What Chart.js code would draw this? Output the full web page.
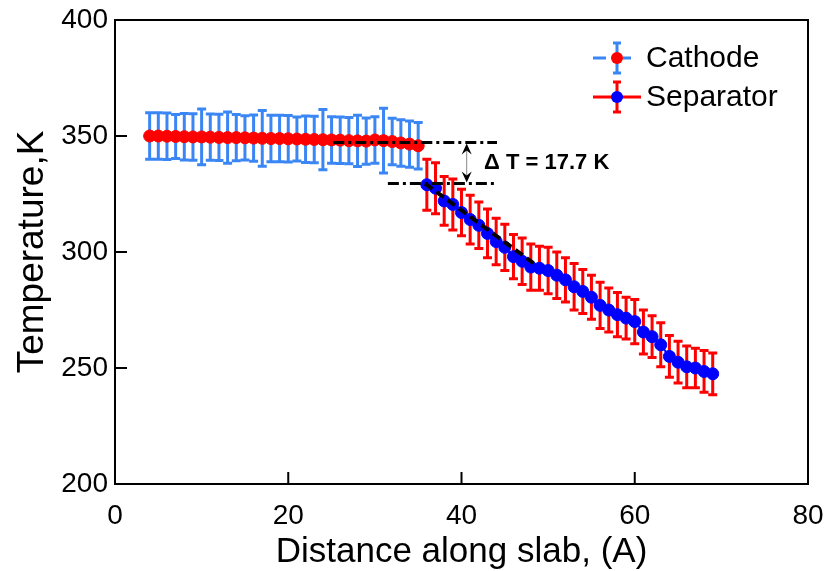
<!DOCTYPE html>
<html>
<head>
<meta charset="utf-8">
<script src="https://cdn.jsdelivr.net/npm/chart.js@4"></script>
<style>
  body { margin: 0; background: #fff; }
  canvas { display: block; }
</style>
</head>
<body>
<canvas id="tempchart" width="825" height="571"></canvas>
<script>
// Data
const cathodeX = [4, 5, 6, 7, 8, 9, 10, 11, 12, 13, 14, 15, 16, 17, 18, 19, 20, 21, 22, 23, 24, 25, 26, 27, 28, 29, 30, 31, 32, 33, 34, 35];
const cathodeT = [350.0, 350.0, 349.9, 349.8, 349.7, 349.6, 349.6, 349.5, 349.4, 349.3, 349.3, 349.2, 349.1, 349.0, 348.9, 348.9,
                  348.8, 348.7, 348.6, 348.5, 348.4, 348.3, 348.2, 348.0, 347.9, 347.8, 348.3, 348.0, 347.6, 347.0, 346.5, 345.8];
const cathodeErr = [10, 10, 10, 9.5, 10, 10, 12, 10, 10, 11, 10, 9.5, 10, 12, 10, 10,
                    10, 9.5, 10, 10, 13, 10, 10, 10, 11, 10, 10, 14, 10, 10, 10, 10];

const separatorX = [36, 37, 38, 39, 40, 41, 42, 43, 44, 45, 46, 47, 48, 49, 50, 51, 52, 53, 54, 55, 56, 57, 58, 59, 60, 61, 62, 63, 64, 65, 66, 67, 68, 69];
const separatorT = [329, 327.5, 322, 320.5, 317, 314, 311.5, 308, 304.5, 302, 298, 296, 293.5, 293, 292, 290, 288, 285, 283, 280.5,
                    277, 275, 273, 271.5, 270, 265.5, 263.5, 260, 255, 252.5, 250.5, 250, 248.5, 247.5];
const separatorErr = [11, 11, 10.5, 11, 10, 10.5, 10, 10.5, 10, 10, 9.5, 10, 10, 9.5, 10, 10, 9.5, 10, 9.5, 9.5,
                      10, 9.5, 9.5, 9, 9.5, 9.5, 9, 9.5, 9, 9, 9, 8.5, 9, 9];

// reference levels and the fit through the first separator points
const upperLevelX = [25.2, 44.1];
const upperLevelT = [347.2, 347.2];
const lowerLevelX = [31.5, 44.1];
const lowerLevelT = [329.5, 329.5];
const fitX = [35.8, 48.3];
const fitT = [329.5, 295.2];
const deltaLabel = 'Δ T = 17.7 K';

const xTicks = [0, 20, 40, 60, 80];
const yTicks = [200, 250, 300, 350, 400];

const RED = '#ff0000';
const BLUE = '#0000ff';
const LIGHTBLUE = '#3b86f5';
const FONT = "'Liberation Sans', Arial, sans-serif";

const pairs = (xs, ys) => xs.map((v, i) => ({ x: v, y: ys[i] }));

function errorBars(ctx, sx, sy, xs, ys, errs, color) {
  ctx.save();
  ctx.strokeStyle = color;
  ctx.lineWidth = 3;
  xs.forEach((v, i) => {
    const px = sx.getPixelForValue(v);
    const top = sy.getPixelForValue(ys[i] + errs[i]);
    const bot = sy.getPixelForValue(ys[i] - errs[i]);
    ctx.beginPath();
    ctx.moveTo(px, top); ctx.lineTo(px, bot);
    ctx.moveTo(px - 4.5, top); ctx.lineTo(px + 4.5, top);
    ctx.moveTo(px - 4.5, bot); ctx.lineTo(px + 4.5, bot);
    ctx.stroke();
  });
  ctx.restore();
}

function arrowHead(ctx, x, y, dir) {
  ctx.beginPath();
  ctx.moveTo(x, y);
  ctx.lineTo(x - 5, y - dir * 11);
  ctx.lineTo(x, y - dir * 7);
  ctx.lineTo(x + 5, y - dir * 11);
  ctx.closePath();
  ctx.fill();
}

const decor = {
  id: 'decor',
  beforeDatasetsDraw(chart) {
    const { ctx, scales: { x, y } } = chart;
    errorBars(ctx, x, y, cathodeX, cathodeT, cathodeErr, LIGHTBLUE);
    errorBars(ctx, x, y, separatorX, separatorT, separatorErr, RED);
  },
  afterDraw(chart) {
    const { ctx, chartArea: a, scales: { x, y } } = chart;
    ctx.save();
    // frame
    ctx.strokeStyle = '#000';
    ctx.lineWidth = 2;
    ctx.strokeRect(a.left, a.top, a.right - a.left, a.bottom - a.top);
    // inward ticks
    ctx.beginPath();
    xTicks.forEach(v => {
      const px = x.getPixelForValue(v);
      ctx.moveTo(px, a.bottom); ctx.lineTo(px, a.bottom - 12);
    });
    yTicks.forEach(v => {
      const py = y.getPixelForValue(v);
      ctx.moveTo(a.left, py); ctx.lineTo(a.left + 12, py);
    });
    ctx.stroke();

    // double arrow for delta T
    const ax = x.getPixelForValue(40.6);
    const ay1 = y.getPixelForValue(upperLevelT[0]) + 1;
    const ay2 = y.getPixelForValue(lowerLevelT[0]) - 1;
    ctx.strokeStyle = '#888';
    ctx.lineWidth = 1;
    ctx.beginPath();
    ctx.moveTo(ax, ay1 + 6); ctx.lineTo(ax, ay2 - 6);
    ctx.stroke();
    ctx.fillStyle = '#000';
    arrowHead(ctx, ax, ay1, -1);
    arrowHead(ctx, ax, ay2, 1);

    ctx.font = 'bold 22px ' + FONT;
    ctx.textBaseline = 'middle';
    ctx.textAlign = 'left';
    ctx.fillText(deltaLabel, x.getPixelForValue(42.6), y.getPixelForValue(338.6));

    // legend
    const lx = 617;
    const rows = [
      { label: 'Cathode', cy: 58, bar: LIGHTBLUE, dot: RED, dashed: true },
      { label: 'Separator', cy: 97, bar: RED, dot: BLUE, dashed: false }
    ];
    rows.forEach(r => {
      ctx.strokeStyle = r.bar;
      ctx.lineWidth = 3;
      ctx.beginPath();
      if (r.dashed) {
        ctx.moveTo(593, r.cy); ctx.lineTo(606, r.cy);
        ctx.moveTo(623, r.cy); ctx.lineTo(631, r.cy);
      } else {
        ctx.moveTo(593, r.cy); ctx.lineTo(641, r.cy);
      }
      ctx.moveTo(lx, r.cy - 15); ctx.lineTo(lx, r.cy + 15);
      ctx.moveTo(lx - 4, r.cy - 15); ctx.lineTo(lx + 4, r.cy - 15);
      ctx.moveTo(lx - 4, r.cy + 15); ctx.lineTo(lx + 4, r.cy + 15);
      ctx.stroke();
      ctx.fillStyle = r.dot;
      ctx.beginPath();
      ctx.arc(lx, r.cy, 6, 0, Math.PI * 2);
      ctx.fill();
      ctx.fillStyle = '#000';
      ctx.font = '30px ' + FONT;
      ctx.fillText(r.label, 646, r.cy + 1);
    });
    ctx.restore();
  }
};

const ctx = document.getElementById('tempchart').getContext('2d');
new Chart(ctx, {
  type: 'scatter',
  data: {
    datasets: [
      {
        data: pairs(upperLevelX, upperLevelT), showLine: true, pointRadius: 0,
        borderColor: '#000', borderWidth: 3, borderDash: [11, 4, 3, 4]
      },
      {
        data: pairs(lowerLevelX, lowerLevelT), showLine: true, pointRadius: 0,
        borderColor: '#000', borderWidth: 3, borderDash: [11, 4, 3, 4]
      },
      {
        data: pairs(fitX, fitT), showLine: true, pointRadius: 0,
        borderColor: '#000', borderWidth: 4, borderDash: [9, 5]
      },
      {
        label: 'Separator', data: pairs(separatorX, separatorT), showLine: true,
        borderColor: BLUE, borderWidth: 2,
        pointRadius: 6, pointBackgroundColor: BLUE, pointBorderColor: BLUE, pointBorderWidth: 1
      },
      {
        label: 'Cathode', data: pairs(cathodeX, cathodeT), showLine: true,
        borderColor: RED, borderWidth: 2,
        pointRadius: 6, pointBackgroundColor: RED, pointBorderColor: RED, pointBorderWidth: 1
      }
    ]
  },
  options: {
    responsive: false,
    animation: false,
    devicePixelRatio: 1,
    layout: { padding: { top: 20, right: 17, left: 0, bottom: 0 } },
    plugins: { legend: { display: false }, tooltip: { enabled: false } },
    scales: {
      x: {
        type: 'linear', min: 0, max: 80,
        afterBuildTicks: s => { s.ticks = xTicks.map(v => ({ value: v })); },
        afterFit: s => { s.height = 87; s.paddingLeft = 0; s.paddingRight = 0; },
        grid: { display: false, drawTicks: false },
        border: { display: false },
        ticks: { color: '#000', font: { family: FONT, size: 28 }, padding: 15, maxRotation: 0 },
        title: { display: true, text: 'Distance along slab, (A)', color: '#000',
                 font: { family: FONT, size: 35, lineHeight: 1.05 }, padding: { top: 0, bottom: 0 } }
      },
      y: {
        type: 'linear', min: 200, max: 400,
        afterBuildTicks: s => { s.ticks = yTicks.map(v => ({ value: v })); },
        afterFit: s => { s.width = 115; s.paddingTop = 0; s.paddingBottom = 0; },
        grid: { display: false, drawTicks: false },
        border: { display: false },
        ticks: { color: '#000', font: { family: FONT, size: 28 }, padding: 7 },
        title: { display: true, text: 'Temperature,K', color: '#000',
                 font: { family: FONT, size: 37 }, padding: { top: 11, bottom: 0 } }
      }
    }
  },
  plugins: [decor]
});
</script>
</body>
</html>
